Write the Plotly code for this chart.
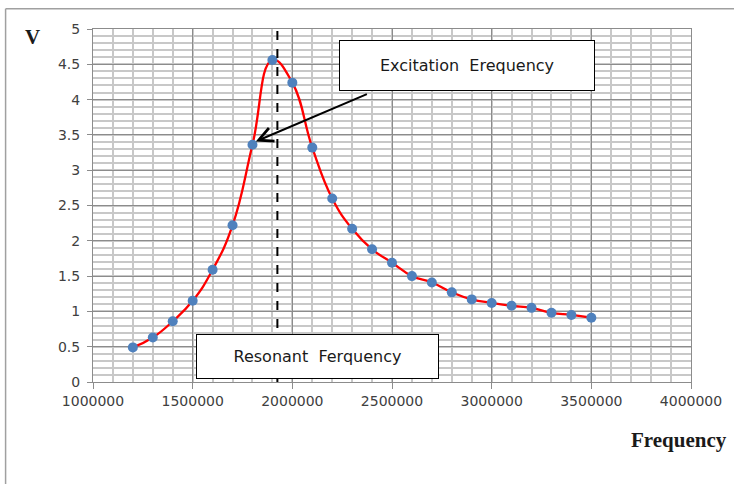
import plotly.graph_objects as go

frequency = [1200000, 1300000, 1400000, 1500000, 1600000, 1700000, 1800000, 1900000,
             2000000, 2100000, 2200000, 2300000, 2400000, 2500000, 2600000, 2700000,
             2800000, 2900000, 3000000, 3100000, 3200000, 3300000, 3400000, 3500000]
voltage = [0.49, 0.63, 0.86, 1.15, 1.59, 2.22, 3.36, 4.56,
           4.24, 3.32, 2.60, 2.17, 1.88, 1.69, 1.50, 1.41,
           1.27, 1.17, 1.12, 1.08, 1.05, 0.98, 0.95, 0.91]
resonant_freq = 1925000
x_ticks = [1000000, 1500000, 2000000, 2500000, 3000000, 3500000, 4000000]
y_ticks = [0, 0.5, 1, 1.5, 2, 2.5, 3, 3.5, 4, 4.5, 5]

L, R, T, B = 92.7, 41.3, 29.3, 101.7
W, H = 734, 484
pw, ph = W - L - R, H - T - B


def px_to_paper(px, py):
    return (px - L) / pw, (H - B - py) / ph


fig = go.Figure()
fig.add_trace(go.Scatter(
    x=frequency, y=voltage, mode="lines",
    line=dict(color="#ff0000", width=2.3, shape="spline", smoothing=1.3),
    hoverinfo="skip", showlegend=False))
fig.add_trace(go.Scatter(
    x=frequency, y=voltage, mode="markers",
    marker=dict(color="#4f81bd", size=10),
    showlegend=False))

fig.add_shape(type="line", xref="x", yref="y", x0=resonant_freq, x1=resonant_freq,
              y0=0, y1=5, line=dict(color="#000000", width=2, dash="dash"))

# outer chart border (top and left visible)
bx, by = px_to_paper(5, 9)
fig.add_shape(type="line", xref="paper", yref="paper", x0=bx, x1=1.2, y0=by, y1=by,
              line=dict(color="#a0a0a0", width=1.5))
fig.add_shape(type="line", xref="paper", yref="paper", x0=bx, x1=bx, y0=by, y1=-0.4,
              line=dict(color="#a0a0a0", width=1.5))

tickfont = dict(family="DejaVu Sans", size=14, color="#404040")
grid_major = "#8c8c8c"
grid_minor = "#c8c8c8"

fig.update_xaxes(range=[1000000, 4000000], tickvals=x_ticks, ticktext=[str(v) for v in x_ticks],
                 showgrid=True, gridcolor=grid_major, gridwidth=1,
                 minor=dict(dtick=100000, showgrid=True, gridcolor=grid_minor, gridwidth=1.5),
                 ticks="outside", ticklen=6, tickcolor=grid_major,
                 showline=True, linecolor=grid_major, mirror=True,
                 zeroline=False, tickfont=tickfont)
fig.update_yaxes(range=[0, 5], tickvals=y_ticks, ticktext=[f"{v:g}" for v in y_ticks],
                 showgrid=True, gridcolor=grid_major, gridwidth=1,
                 minor=dict(dtick=0.1, showgrid=True, gridcolor=grid_minor, gridwidth=1.5),
                 ticks="outside", ticklen=5, tickcolor=grid_major,
                 showline=True, linecolor=grid_major, mirror=True,
                 zeroline=False, tickfont=tickfont, ticklabelstandoff=4)

box_font = dict(family="DejaVu Sans", size=16, color="#1a1a1a")
fig.add_annotation(x=2876500, y=4.49, xref="x", yref="y", text="Excitation  Erequency",
                   showarrow=False, font=box_font, bgcolor="#ffffff",
                   bordercolor="#000000", borderwidth=1, borderpad=0, width=254, height=49)
fig.add_annotation(x=2124000, y=0.364, xref="x", yref="y", text="Resonant  Ferquency",
                   showarrow=False, font=box_font, bgcolor="#ffffff",
                   bordercolor="#000000", borderwidth=1, borderpad=0, width=241, height=43)
fig.add_annotation(x=1816500, y=3.408, ax=2381500, ay=4.086, xref="x", yref="y",
                   axref="x", ayref="y", text="", showarrow=True,
                   arrowhead=5, arrowsize=1.4, arrowwidth=2, arrowcolor="#000000")

title_font = dict(family="Liberation Serif", size=21, color="#1a1a1a")
vx, vy = px_to_paper(32, 37)
fig.add_annotation(x=vx, y=vy, xref="paper", yref="paper", text="<b>V</b>", showarrow=False,
                   xanchor="center", yanchor="middle", font=title_font)
fx, fy = px_to_paper(681, 440)
fig.add_annotation(x=fx, y=fy, xref="paper", yref="paper", text="<b>Frequency</b>", showarrow=False,
                   xanchor="center", yanchor="middle", font=title_font)

fig.update_layout(width=W, height=H, margin=dict(l=L, r=R, t=T, b=B),
                  paper_bgcolor="#ffffff", plot_bgcolor="#ffffff", showlegend=False)

fig.write_html("out.html")
